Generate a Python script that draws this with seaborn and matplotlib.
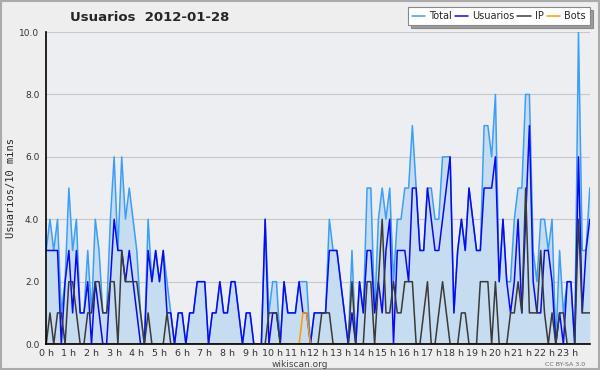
import numpy as np
import pandas as pd
import seaborn as sns
import matplotlib.pyplot as plt
from matplotlib.patches import Rectangle

# 10-minute counts for 2012-01-28 (145 points, 0h .. 24h)
total = [3, 4, 3, 4, 1, 2, 5, 3, 4, 1, 1, 3, 1, 4, 3, 1, 1, 4, 6, 3,
         6, 4, 5, 4, 3, 1, 0, 4, 2, 3, 2, 3, 2, 1, 0, 1, 1, 0, 1, 1,
         2, 2, 2, 0, 1, 1, 2, 1, 1, 2, 2, 1, 0, 1, 1, 0, 0, 0, 4, 1,
         2, 2, 0, 2, 1, 1, 1, 2, 2, 2, 0, 1, 1, 1, 1, 4, 3, 3, 2, 1,
         0, 3, 0, 2, 1, 5, 5, 1, 4, 5, 4, 5, 2, 4, 4, 5, 5, 7, 5, 3,
         3, 5, 5, 4, 4, 6, 6, 6, 1, 3, 4, 3, 5, 4, 3, 3, 7, 7, 6, 8,
         2, 4, 2, 2, 4, 5, 5, 8, 8, 3, 2, 4, 4, 3, 4, 0, 3, 1, 2, 2,
         0, 10, 3, 3, 5]
usuarios = [3, 3, 3, 3, 0, 2, 3, 1, 3, 1, 1, 2, 0, 2, 1, 0, 0, 2, 4, 3,
            3, 2, 3, 2, 1, 0, 0, 3, 2, 3, 2, 3, 1, 1, 0, 1, 1, 0, 1, 1,
            2, 2, 2, 0, 1, 1, 2, 1, 1, 2, 2, 1, 0, 1, 1, 0, 0, 0, 4, 0,
            1, 1, 0, 2, 1, 1, 1, 2, 1, 1, 0, 1, 1, 1, 1, 3, 3, 3, 2, 1,
            0, 1, 0, 2, 1, 3, 3, 1, 2, 1, 3, 4, 0, 3, 3, 3, 2, 5, 5, 3,
            3, 5, 4, 3, 3, 4, 5, 6, 1, 3, 4, 3, 5, 4, 3, 3, 5, 5, 5, 6,
            2, 4, 2, 1, 2, 4, 1, 4, 7, 2, 1, 1, 3, 3, 2, 0, 1, 0, 2, 2,
            0, 6, 1, 3, 4]
ip = [0, 1, 0, 1, 1, 0, 2, 2, 1, 0, 0, 1, 1, 2, 2, 1, 1, 2, 2, 0,
      3, 2, 2, 2, 2, 1, 0, 1, 0, 0, 0, 0, 1, 0, 0, 0, 0, 0, 0, 0,
      0, 0, 0, 0, 0, 0, 0, 0, 0, 0, 0, 0, 0, 0, 0, 0, 0, 0, 0, 1,
      1, 1, 0, 0, 0, 0, 0, 0, 0, 0, 0, 0, 0, 1, 1, 1, 0, 0, 0, 0,
      0, 2, 0, 0, 0, 2, 2, 0, 2, 4, 1, 1, 2, 1, 1, 2, 2, 2, 0, 0,
      1, 2, 0, 0, 1, 2, 1, 0, 0, 0, 1, 1, 0, 0, 0, 2, 2, 2, 0, 2,
      0, 0, 0, 1, 1, 2, 1, 5, 1, 1, 1, 3, 1, 0, 1, 0, 1, 1, 0, 0,
      0, 4, 1, 1, 1]
bots = [0] * 68 + [1, 1] + [0] * 75

hour_labels = [f"{h} h" for h in range(24)]

df = pd.DataFrame({
    "hora": np.arange(len(total)) / 6,
    "Total": total,
    "Usuarios": usuarios,
    "IP": ip,
    "Bots": bots,
})

sns.set_style("white")
plt.rcParams["font.family"] = ["DejaVu Sans"]

fig = plt.figure(figsize=(6, 3.7), dpi=100, facecolor="#eeeeee")
ax = fig.add_axes([0.077, 0.07, 0.906, 0.8435])
ax.set_facecolor("#eceef1")

# fondo bajo el total
ax.fill_between(df["hora"], 0, df["Total"], color="#c6dcf0", lw=0, zorder=1)

colors = {"Total": "#3d9ef5", "Usuarios": "#0a0af0", "IP": "#3a3a3a", "Bots": "#ff9900"}
for name in ["Total", "Usuarios", "IP", "Bots"]:
    sns.lineplot(data=df, x="hora", y=name, ax=ax, color=colors[name],
                 lw=1.1, label=name, zorder=3)

ax.set_xlim(0, 24)
ax.set_ylim(0, 10)
ax.set_xticks(range(24))
ax.set_xticklabels(hour_labels, fontsize=6.8, color="#333333")
ax.set_xticks(np.arange(0, 24, 1 / 6), minor=True)
ax.set_yticks(np.arange(0, 11, 2))
ax.set_yticklabels([f"{v:.1f}" for v in range(0, 11, 2)], fontsize=6.5, color="#333333")
ax.set_yticks(range(11), minor=True)
ax.tick_params(axis="x", which="major", direction="out", length=3.5, width=0.8, pad=0)
ax.tick_params(axis="y", which="major", direction="out", length=4, width=0.8, pad=1)
ax.tick_params(axis="both", which="minor", direction="out", length=3, width=0.8)
ax.grid(axis="y", color="#c8c8c8", lw=0.8)
ax.set_axisbelow(True)
for s in ["top", "right"]:
    ax.spines[s].set_visible(False)
for s in ["left", "bottom"]:
    ax.spines[s].set_color("black")
    ax.spines[s].set_linewidth(1.2)
    ax.spines[s].set_zorder(5)

ax.set_xlabel("")
ax.set_ylabel("Usuarios/10 mins", fontsize=7.5, family="DejaVu Sans Mono", labelpad=2)

fig.text(0.25, 0.952, "Usuarios  2012-01-28", fontsize=9.5, fontweight="bold",
         ha="center", va="center")
fig.text(0.5, 0.016, "wikiscan.org", fontsize=6.5, color="#444444", ha="center", va="center")
fig.text(0.975, 0.016, "CC BY-SA 3.0", fontsize=4.5, color="#666666", ha="right", va="center")

leg = ax.legend(loc="upper right", bbox_to_anchor=(1.0, 1.08), ncol=4, fontsize=7,
                frameon=True, fancybox=False, shadow=True, handlelength=1.4,
                handletextpad=0.4, columnspacing=0.3, borderpad=0.4, borderaxespad=0)
leg.get_frame().set_edgecolor("#888888")
leg.get_frame().set_linewidth(0.8)

# marco de la figura
fig.patches.append(Rectangle((0.002, 0.003), 0.996, 0.994, transform=fig.transFigure,
                             fill=False, edgecolor="#aaaaaa", lw=1.5))

fig.savefig("out.png", dpi=100, facecolor=fig.get_facecolor())
